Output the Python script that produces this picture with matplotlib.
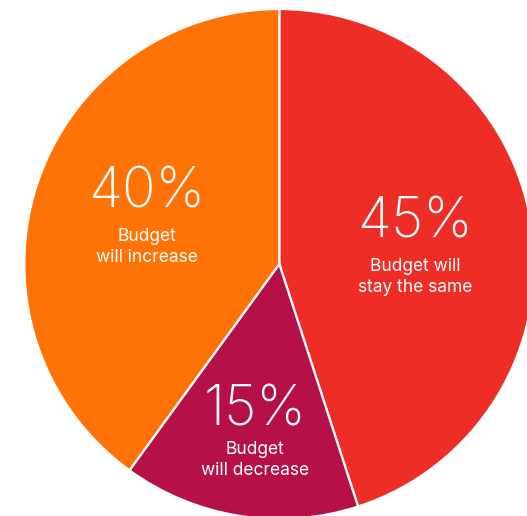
import matplotlib
matplotlib.use("Agg")
import matplotlib.pyplot as plt

# slices clockwise from 12 o'clock
shares = [45, 15, 40]
captions = ["Budget will\nstay the same", "Budget\nwill decrease", "Budget\nwill increase"]
colors = ["#EE2E26", "#B51048", "#FF7306"]

W, H = 527, 516
fig = plt.figure(figsize=(W / 100, H / 100), dpi=100)
ax = fig.add_axes([0, 0, 1, 1])

ax.pie(shares, colors=colors, startangle=90, counterclock=False,
       center=(279.3, H - 264), radius=255,
       wedgeprops={"edgecolor": "white", "linewidth": 1.6})
ax.set_xlim(0, W)
ax.set_ylim(0, H)
ax.set_aspect("equal")
ax.axis("off")

# label anchors in pixel space (x, y from top)
pct_pos = [(415, 222), (255, 410), (147, 193)]
cap_pos = [(415, 277), (255, 460), (147, 247)]

for s, c, (px, py), (cx, cy) in zip(shares, captions, pct_pos, cap_pos):
    ax.text(px, H - py, f"{s}%", ha="center", va="center", color="white",
            fontsize=40, family=["Inter", "Lato", "DejaVu Sans"], fontweight="light")
    ax.text(cx, H - cy, c, ha="center", va="center", color="white",
            fontsize=12.5, family=["Inter", "DejaVu Sans"], linespacing=1.32)

fig.savefig("out.png", dpi=100, facecolor="white")
